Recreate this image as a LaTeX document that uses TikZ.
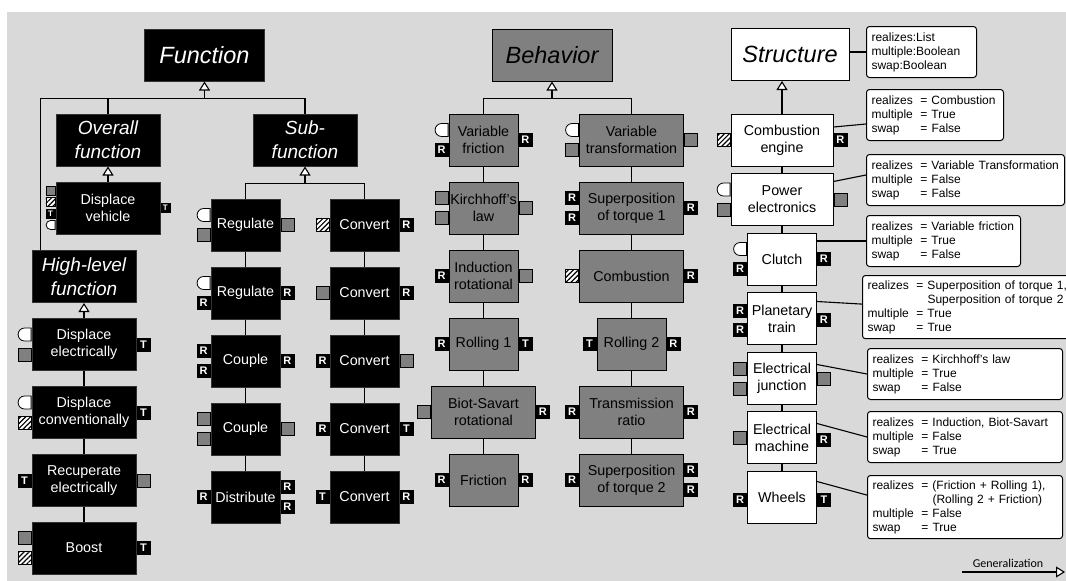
\documentclass[tikz,border=0pt]{standalone}
\usepackage{fontspec}
\setmainfont{Liberation Sans}
\newfontfamily\legendfont{Carlito}
\usetikzlibrary{calc,arrows.meta,patterns.meta,shapes.misc}

\definecolor{panel}{HTML}{D9D9D9}
\definecolor{midgray}{HTML}{808080}

\newcommand{\blockfont}{\fontsize{14.3}{17}\selectfont}
\newcommand{\headfont}{\fontsize{23.5}{28}\selectfont\itshape}
\newcommand{\subheadfont}{\fontsize{19}{24}\selectfont\itshape}
\newcommand{\memofont}{\fontsize{12}{14}\selectfont}
\newcommand{\pinfont}{\fontsize{11}{11}\selectfont\bfseries}
\newcommand{\tinypinfont}{\fontsize{8}{8}\selectfont\bfseries}

% pins on the left / right side of a block
\newcommand{\inpin}[5]{\node[#1,anchor=east] (#2) at ($(#3.west)+(0,#4)$) {#5};}
\newcommand{\outpin}[5]{\node[#1,anchor=west] (#2) at ($(#3.east)+(0,#4)$) {#5};}
% one attribute line in a note
\newcommand{\attr}[2]{\makebox[49pt][l]{#1}= #2}
\newcommand{\attrcont}[1]{\makebox[49pt][l]{}\phantom{= }#1}

\begin{document}
\begin{tikzpicture}[x=1pt,y=-1pt,
  fblock/.style={draw=black!80,fill=black,text=white,line width=1pt,
    minimum width=69pt,minimum height=52pt,inner sep=1pt,align=center,font=\blockfont},
  wide/.style={minimum width=104pt},
  bblock/.style={fblock,fill=midgray,draw=black,text=black},
  sblock/.style={fblock,fill=white,draw=black,text=black},
  head/.style={minimum width=120pt,minimum height=52pt,font=\headfont},
  subhead/.style={minimum width=104pt,minimum height=52pt,font=\subheadfont},
  note/.style={draw,fill=white,rounded corners=3pt,line width=1pt,anchor=north west,
    inner sep=5pt,align=left,font=\memofont,minimum height=51pt},
  link/.style={line width=1.1pt},
  gen/.style={link,-{Triangle[length=9pt,width=11pt,fill=white]}},
  pin/.style={minimum width=13pt,minimum height=13pt,inner sep=0pt,line width=0.8pt,font=\pinfont},
  sig/.style={pin,fill=black,draw=black,text=white},
  flow/.style={pin,fill=midgray,draw=black},
  fuel/.style={pin,draw=black,preaction={fill=white},
    pattern={Lines[angle=45,distance=3.5pt,line width=1.2pt]}},
  plug/.style={pin,draw=black,fill=white,rounded rectangle,rounded rectangle right arc=none},
  tiny/.style={minimum width=9pt,minimum height=9pt,font=\tinypinfont}]

\useasboundingbox (0,0) rectangle (1066,581);
\fill[panel] (7,12) rectangle (1066,581);

% ---------------- function ----------------
\node[fblock,head] (fn) at (204.5,55) {Function};
\node[fblock,subhead] (ov) at (108,140) {Overall\\function};
\node[fblock,wide] (dv) at (108,208) {Displace\\vehicle};
\node[fblock,subhead] (hl) at (84,276.5) {High-level\\function};
\node[fblock,wide] (de) at (84,344.5) {Displace\\electrically};
\node[fblock,wide] (dc) at (84,412.5) {Displace\\conventionally};
\node[fblock,wide] (re) at (84,480.5) {Recuperate\\electrically};
\node[fblock,wide] (bo) at (84,548) {Boost};

\node[fblock,subhead] (sf) at (305,140) {Sub-\\function};
\node[fblock] (rg1) at (245.5,225) {Regulate};
\node[fblock] (rg2) at (245.5,293) {Regulate};
\node[fblock] (cp1) at (245.5,361) {Couple};
\node[fblock] (cp2) at (245.5,429) {Couple};
\node[fblock] (ds) at (245.5,497) {Distribute};
\node[fblock] (cv1) at (364.5,225) {Convert};
\node[fblock] (cv2) at (364.5,293) {Convert};
\node[fblock] (cv3) at (364.5,361) {Convert};
\node[fblock] (cv4) at (364.5,429) {Convert};
\node[fblock] (cv5) at (364.5,497) {Convert};

\coordinate (fn-bus) at ($(fn.south)+(0,17)$);
\coordinate (hl-top) at ($(hl.north west)+(9,0)$);
\draw[gen] (fn-bus) -- (fn.south);
\draw[link] (ov.north) |- (fn-bus);
\draw[link] (sf.north) |- (fn-bus);
\draw[link] (hl-top) |- (fn-bus);
\draw[gen] (dv) -- (ov);
\draw[gen] (de) -- (hl);
\coordinate (sf-bus) at ($(sf.south)+(0,17)$);
\draw[gen] (sf-bus) -- (sf.south);
\draw[link] (rg1.north) |- (sf-bus) -| (cv1.north);
\foreach \a/\b in {de/dc,dc/re,re/bo,rg1/rg2,rg2/cp1,cp1/cp2,cp2/ds,
                   cv1/cv2,cv2/cv3,cv3/cv4,cv4/cv5}
  \draw[link] (\a) -- (\b);

\inpin{flow,tiny}{dv-i1}{dv}{-17.5}{}
\inpin{fuel,tiny}{dv-i2}{dv}{-6}{}
\inpin{sig,tiny}{dv-i3}{dv}{5.5}{T}
\inpin{plug,tiny}{dv-i4}{dv}{17}{}
\outpin{sig,tiny}{dv-o1}{dv}{0}{T}

\inpin{plug}{de-i1}{de}{-10}{}
\inpin{flow}{de-i2}{de}{10}{}
\outpin{sig}{de-o1}{de}{0}{T}
\inpin{plug}{dc-i1}{dc}{-10}{}
\inpin{fuel}{dc-i2}{dc}{10}{}
\outpin{sig}{dc-o1}{dc}{0}{T}
\inpin{sig}{re-i1}{re}{0}{T}
\outpin{flow}{re-o1}{re}{0}{}
\inpin{flow}{bo-i1}{bo}{-10}{}
\inpin{fuel}{bo-i2}{bo}{10}{}
\outpin{sig}{bo-o1}{bo}{0}{T}

\inpin{plug}{rg1-i1}{rg1}{-10}{}
\inpin{flow}{rg1-i2}{rg1}{10}{}
\outpin{flow}{rg1-o1}{rg1}{0}{}
\inpin{plug}{rg2-i1}{rg2}{-10}{}
\inpin{sig}{rg2-i2}{rg2}{10}{R}
\outpin{sig}{rg2-o1}{rg2}{0}{R}
\inpin{sig}{cp1-i1}{cp1}{-10}{R}
\inpin{sig}{cp1-i2}{cp1}{10}{R}
\outpin{sig}{cp1-o1}{cp1}{0}{R}
\inpin{flow}{cp2-i1}{cp2}{-10}{}
\inpin{flow}{cp2-i2}{cp2}{10}{}
\outpin{flow}{cp2-o1}{cp2}{0}{}
\inpin{sig}{ds-i1}{ds}{0}{R}
\outpin{sig}{ds-o1}{ds}{-10}{R}
\outpin{sig}{ds-o2}{ds}{10}{R}

\inpin{fuel}{cv1-i1}{cv1}{0}{}
\outpin{sig}{cv1-o1}{cv1}{0}{R}
\inpin{flow}{cv2-i1}{cv2}{0}{}
\outpin{sig}{cv2-o1}{cv2}{0}{R}
\inpin{sig}{cv3-i1}{cv3}{0}{R}
\outpin{flow}{cv3-o1}{cv3}{0}{}
\inpin{sig}{cv4-i1}{cv4}{0}{R}
\outpin{sig}{cv4-o1}{cv4}{0}{T}
\inpin{sig}{cv5-i1}{cv5}{0}{T}
\outpin{sig}{cv5-o1}{cv5}{0}{R}

% ---------------- behavior ----------------
\node[bblock,head] (be) at (552,55) {Behavior};
\node[bblock] (vf) at (483.5,140) {Variable\\friction};
\node[bblock] (kl) at (483.5,208) {Kirchhoff's\\law};
\node[bblock] (ir) at (483.5,276) {Induction\\rotational};
\node[bblock] (rl1) at (483.5,344) {Rolling 1};
\node[bblock,wide] (bs) at (483.5,412) {Biot-Savart\\rotational};
\node[bblock] (fr) at (483.5,480) {Friction};
\node[bblock,wide] (vt) at (631.5,140) {Variable\\transformation};
\node[bblock,wide] (sp1) at (631.5,208) {Superposition\\of torque 1};
\node[bblock,wide] (cb) at (631.5,276) {Combustion};
\node[bblock] (rl2) at (631.5,344) {Rolling 2};
\node[bblock,wide] (tr) at (631.5,412) {Transmission\\ratio};
\node[bblock,wide] (sp2) at (631.5,480) {Superposition\\of torque 2};

\coordinate (be-bus) at ($(be.south)+(0,17)$);
\draw[gen] (be-bus) -- (be.south);
\draw[link] (vf.north) |- (be-bus) -| (vt.north);
\foreach \a/\b in {vf/kl,kl/ir,ir/rl1,rl1/bs,bs/fr,vt/sp1,sp1/cb,cb/rl2,rl2/tr,tr/sp2}
  \draw[link] (\a) -- (\b);

\inpin{plug}{vf-i1}{vf}{-10}{}
\inpin{sig}{vf-i2}{vf}{10}{R}
\outpin{sig}{vf-o1}{vf}{0}{R}
\inpin{flow}{kl-i1}{kl}{-10}{}
\inpin{flow}{kl-i2}{kl}{10}{}
\outpin{flow}{kl-o1}{kl}{0}{}
\inpin{sig}{ir-i1}{ir}{0}{R}
\outpin{flow}{ir-o1}{ir}{0}{}
\inpin{sig}{rl1-i1}{rl1}{0}{R}
\outpin{sig}{rl1-o1}{rl1}{0}{T}
\inpin{flow}{bs-i1}{bs}{0}{}
\outpin{sig}{bs-o1}{bs}{0}{R}
\inpin{sig}{fr-i1}{fr}{0}{R}
\outpin{sig}{fr-o1}{fr}{0}{R}

\inpin{plug}{vt-i1}{vt}{-10}{}
\inpin{flow}{vt-i2}{vt}{10}{}
\outpin{flow}{vt-o1}{vt}{0}{}
\inpin{sig}{sp1-i1}{sp1}{-10}{R}
\inpin{sig}{sp1-i2}{sp1}{10}{R}
\outpin{sig}{sp1-o1}{sp1}{0}{R}
\inpin{fuel}{cb-i1}{cb}{0}{}
\outpin{sig}{cb-o1}{cb}{0}{R}
\inpin{sig}{rl2-i1}{rl2}{0}{T}
\outpin{sig}{rl2-o1}{rl2}{0}{R}
\inpin{sig}{tr-i1}{tr}{0}{R}
\outpin{sig}{tr-o1}{tr}{0}{R}
\inpin{sig}{sp2-i1}{sp2}{0}{R}
\outpin{sig}{sp2-o1}{sp2}{-10}{R}
\outpin{sig}{sp2-o2}{sp2}{10}{R}

% ---------------- structure ----------------
\node[sblock,head,minimum width=118pt] (st) at (790,54.5) {Structure};
\node[sblock,minimum width=102pt] (ce) at (782,140) {Combustion\\engine};
\node[sblock,minimum width=102pt] (pe) at (782,199.5) {Power\\electronics};
\node[sblock] (cl) at (782,259) {Clutch};
\node[sblock] (pt) at (782,318.5) {Planetary\\train};
\node[sblock] (ej) at (782,378.5) {Electrical\\junction};
\node[sblock] (em) at (782,437.5) {Electrical\\machine};
\node[sblock] (wh) at (782,497.5) {Wheels};

\draw[gen] (ce.north) -- (ce.north |- st.south);
\foreach \a/\b in {ce/pe,pe/cl,cl/pt,pt/ej,ej/em,em/wh}
  \draw[link] (\a) -- (\b);

\inpin{fuel}{ce-i1}{ce}{0}{}
\outpin{sig}{ce-o1}{ce}{0}{R}
\inpin{plug}{pe-i1}{pe}{-10}{}
\inpin{flow}{pe-i2}{pe}{10}{}
\outpin{flow}{pe-o1}{pe}{0}{}
\inpin{plug}{cl-i1}{cl}{-10}{}
\inpin{sig}{cl-i2}{cl}{10}{R}
\outpin{sig}{cl-o1}{cl}{0}{R}
\inpin{sig}{pt-i1}{pt}{-8}{R}
\inpin{sig}{pt-i2}{pt}{11}{R}
\outpin{sig}{pt-o1}{pt}{1}{R}
\inpin{flow}{ej-i1}{ej}{-10}{}
\inpin{flow}{ej-i2}{ej}{10}{}
\outpin{flow}{ej-o1}{ej}{0}{}
\inpin{flow}{em-i1}{em}{0}{}
\outpin{sig}{em-o1}{em}{2}{R}
\inpin{sig}{wh-i1}{wh}{2}{R}
\outpin{sig}{wh-o1}{wh}{2}{T}

% notes
\node[note,text width=100pt] (n1) at (866,26) {realizes:List\\multiple:Boolean\\swap:Boolean};
\node[note,text width=127pt] (n2) at (866,89)
  {\attr{realizes}{Combustion}\\\attr{multiple}{True}\\\attr{swap}{False}};
\node[note,text width=188pt] (n3) at (866,154)
  {\attr{realizes}{Variable Transformation}\\\attr{multiple}{False}\\\attr{swap}{False}};
\node[note,text width=144pt] (n4) at (866,215)
  {\attr{realizes}{Variable friction}\\\attr{multiple}{True}\\\attr{swap}{False}};
\node[note,text width=202pt,minimum height=62pt] (n5) at (862,275)
  {\attr{realizes}{Superposition of torque 1,}\\\attrcont{Superposition of torque 2}\\
   \attr{multiple}{True}\\\attr{swap}{True}};
\node[note,text width=185pt] (n6) at (867,348)
  {\attr{realizes}{Kirchhoff's law}\\\attr{multiple}{True}\\\attr{swap}{False}};
\node[note,text width=185pt] (n7) at (867,411)
  {\attr{realizes}{Induction, Biot-Savart}\\\attr{multiple}{False}\\\attr{swap}{True}};
\node[note,text width=185pt,minimum height=63pt] (n8) at (867,475)
  {\attr{realizes}{(Friction + Rolling 1),}\\\attrcont{(Rolling 2 + Friction)}\\
   \attr{multiple}{False}\\\attr{swap}{True}};

\draw[link] (st.east |- n1.west) -- (n1.west);
\draw[link] ($(ce.east)+(0,-13)$) -- ($(n2.west)+(0,9)$);
\draw[link] ($(pe.east)+(0,-18)$) -- ($(n3.west)+(0,-5)$);
\draw[link] ($(cl.east)+(0,-18)$) -- (n4.west);
\draw[link] ($(pt.east)+(0,-17)$) -- ($(n5.west)+(0,-3)$);
\draw[link] ($(ej.east)+(0,-14)$) -- (n6.west);
\draw[link] ($(em.east)+(0,-14)$) -- (n7.west);
\draw[link] ($(wh.east)+(0,-16)$) -- ($(n8.west)+(0,-12)$);

% legend
\node[font=\legendfont\fontsize{12}{14}\selectfont] (gl) at (1008,563) {Generalization};
\coordinate (gl-a) at (962,572);
\coordinate (gl-b) at (1065,572);
\draw[gen] (gl-a) -- (gl-b);

\end{tikzpicture}
\end{document}
